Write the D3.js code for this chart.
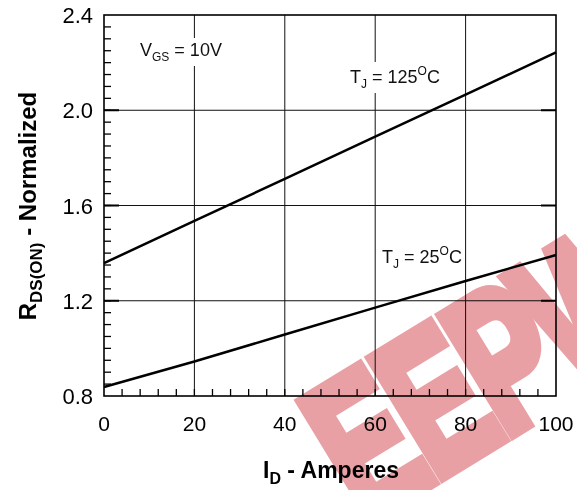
<!DOCTYPE html>
<html>
<head>
<meta charset="utf-8">
<script src="https://cdn.jsdelivr.net/npm/d3@7"></script>
<style>
  body { margin: 0; background: #fff; }
  text { font-family: "Liberation Sans", Arial, sans-serif; }
</style>
</head>
<body>
<div id="chart"></div>
<script>
// curve data
var idAmps = [0, 20, 40, 60, 80, 100];
var rds125 = [1.358, 1.535, 1.712, 1.889, 2.066, 2.243];
var rds25 = [0.838, 0.945, 1.058, 1.171, 1.283, 1.392];
var xTicks = [0, 20, 40, 60, 80, 100];
var yTicks = [0.8, 1.2, 1.6, 2.0, 2.4];
var yTickLabels = ["0.8", "1.2", "1.6", "2.0", "2.4"];

var width = 577, height = 490;
var m = { left: 104, right: 21, top: 15, bottom: 94 };
var w = width - m.left - m.right, h = height - m.top - m.bottom;

var svg = d3.select("#chart").append("svg")
  .attr("width", width).attr("height", height);

var x = d3.scaleLinear().domain([0, 100]).range([m.left, m.left + w]);
var y = d3.scaleLinear().domain([0.8, 2.4]).range([m.top + h, m.top]);

var g = svg.append("g");

// grid
g.selectAll(".gx").data(xTicks.slice(1, -1)).enter().append("line")
  .attr("x1", d => x(d)).attr("x2", d => x(d))
  .attr("y1", y(2.4)).attr("y2", y(0.8))
  .attr("stroke", "#111").attr("stroke-width", 1);
g.selectAll(".gy").data(yTicks.slice(1, -1)).enter().append("line")
  .attr("y1", d => y(d)).attr("y2", d => y(d))
  .attr("x1", x(0)).attr("x2", x(100))
  .attr("stroke", "#111").attr("stroke-width", 1);

// minor ticks, pointing inward
var yMinor = d3.range(0.85, 2.4, 0.05);
g.selectAll(".ty").data(yMinor).enter().append("line")
  .attr("x1", x(0)).attr("x2", x(0) + 7)
  .attr("y1", d => y(d)).attr("y2", d => y(d))
  .attr("stroke", "#000").attr("stroke-width", 1.3);
var xMinor = d3.range(4, 100, 4);
g.selectAll(".tx").data(xMinor).enter().append("line")
  .attr("x1", d => x(d)).attr("x2", d => x(d))
  .attr("y1", y(0.8)).attr("y2", y(0.8) - 7)
  .attr("stroke", "#000").attr("stroke-width", 1.3);
// major ticks on both sides
g.selectAll(".tr").data(yTicks.slice(1, -1)).enter().append("line")
  .attr("x1", x(100)).attr("x2", x(100) - 15)
  .attr("y1", d => y(d)).attr("y2", d => y(d))
  .attr("stroke", "#000").attr("stroke-width", 2);
g.selectAll(".tl").data(yTicks.slice(1, -1)).enter().append("line")
  .attr("x1", x(0)).attr("x2", x(0) + 15)
  .attr("y1", d => y(d)).attr("y2", d => y(d))
  .attr("stroke", "#000").attr("stroke-width", 2);

// annotation labels with white boxes that break the grid
function label(px, py, parts) {
  var t = g.append("text").attr("x", px).attr("y", py)
    .attr("font-size", 18).attr("fill", "#111");
  parts.forEach(function(p) {
    var s = t.append("tspan").text(p[0]);
    if (p[1] === "sub") s.attr("font-size", 12).attr("dy", 5);
    if (p[1] === "back") s.attr("dy", -5);
    if (p[1] === "sup") s.attr("font-size", 12).attr("dy", -8);
    if (p[1] === "supback") s.attr("dy", 8);
  });
  var bb = t.node().getBBox();
  g.insert("rect", "text").attr("x", bb.x - 3).attr("y", bb.y - 2)
    .attr("width", bb.width + 6).attr("height", bb.height + 4).attr("fill", "#fff");
}
label(140, 56, [["V"], ["GS", "sub"], [" = 10V", "back"]]);
label(350, 83, [["T"], ["J", "sub"], [" = 125", "back"], ["O", "sup"], ["C", "supback"]]);
label(382, 263, [["T"], ["J", "sub"], [" = 25", "back"], ["O", "sup"], ["C", "supback"]]);

// curves
var line = d3.line().x(d => x(d[0])).y(d => y(d[1]));
g.append("path").datum(d3.zip(idAmps, rds125)).attr("d", line)
  .attr("fill", "none").attr("stroke", "#000").attr("stroke-width", 2.5);
g.append("path").datum(d3.zip(idAmps, rds25)).attr("d", line)
  .attr("fill", "none").attr("stroke", "#000").attr("stroke-width", 2.5);

// frame
g.append("rect").attr("x", x(0)).attr("y", y(2.4))
  .attr("width", w).attr("height", h)
  .attr("fill", "none").attr("stroke", "#000").attr("stroke-width", 1.6);

// tick labels
g.selectAll(".lx").data(xTicks).enter().append("text")
  .attr("x", d => x(d)).attr("y", y(0.8) + 35)
  .attr("text-anchor", "middle").attr("font-size", 21).text(d => d);
g.selectAll(".ly").data(yTicks).enter().append("text")
  .attr("x", x(0) - 11).attr("y", d => y(d) + 8)
  .attr("text-anchor", "end").attr("font-size", 22)
  .text((d, i) => yTickLabels[i]);

// axis titles
var xt = g.append("text").attr("x", 331).attr("y", 478)
  .attr("text-anchor", "middle").attr("font-size", 23).attr("font-weight", "bold");
xt.append("tspan").text("I");
xt.append("tspan").text("D").attr("font-size", 16).attr("dy", 6);
xt.append("tspan").text(" - Amperes").attr("dy", -6);

var yt = g.append("text").attr("transform", "translate(36,206) rotate(-90)")
  .attr("text-anchor", "middle").attr("font-size", 24).attr("font-weight", "bold");
yt.append("tspan").text("R");
yt.append("tspan").text("DS(ON)").attr("font-size", 17).attr("dy", 6);
yt.append("tspan").text(" - Normalized").attr("dy", -6);

// watermark (runs off the right edge)
svg.append("text").attr("transform", "translate(364,523) rotate(-31.4) scale(0.66,1)")
  .attr("font-family", "DejaVu Sans").attr("font-weight", "bold")
  .attr("font-size", 196).attr("letter-spacing", -6)
  .attr("fill", "#e9a0a5").attr("stroke", "#e9a0a5").attr("stroke-width", 14)
  .attr("stroke-linejoin", "miter")
  .style("mix-blend-mode", "multiply").text("EEPW");
</script>
</body>
</html>
